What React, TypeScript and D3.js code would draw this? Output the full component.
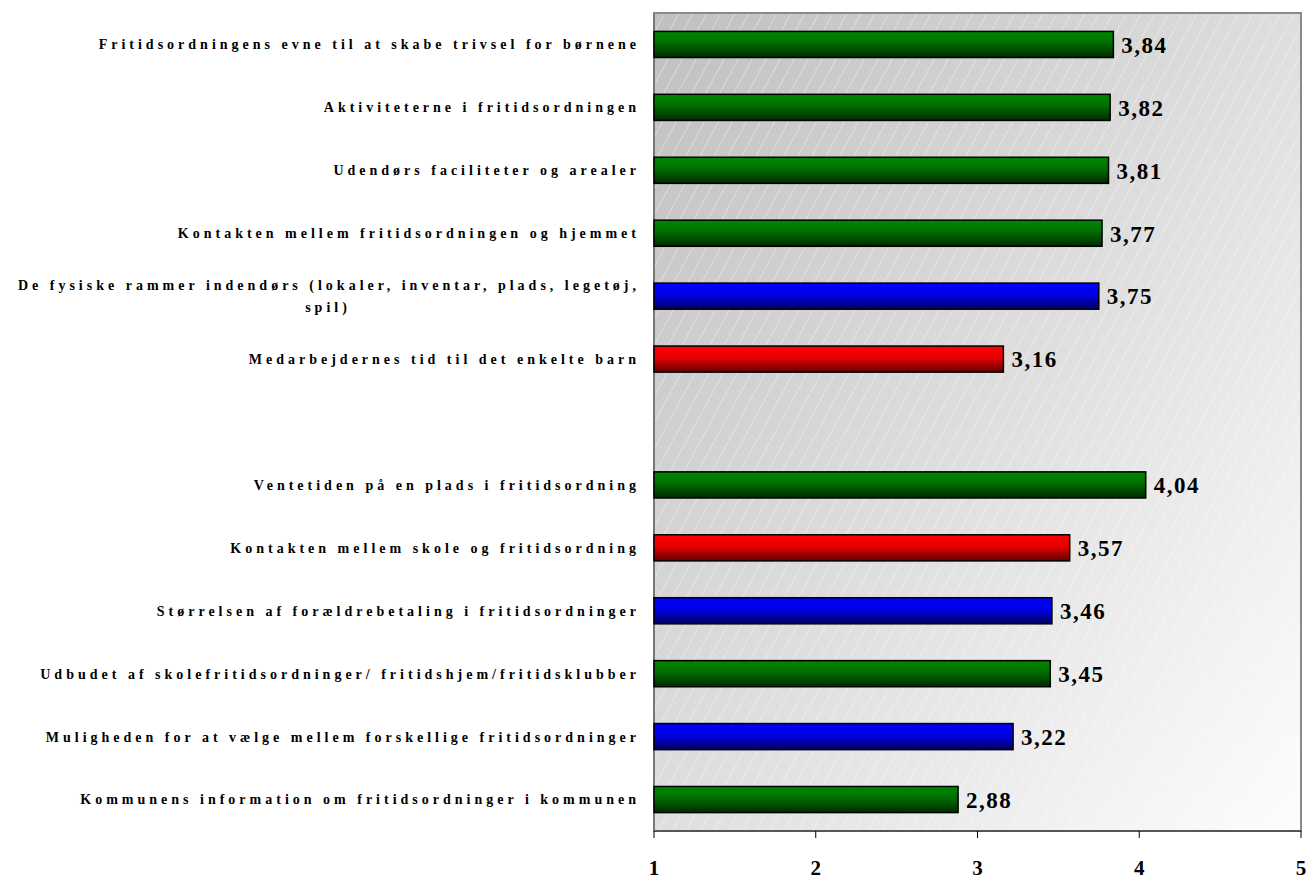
import React from "react";
import * as d3 from "d3";

const categories: string[][] = [
  ["Fritidsordningens evne til at skabe trivsel for børnene"],
  ["Aktiviteterne i fritidsordningen"],
  ["Udendørs faciliteter og arealer"],
  ["Kontakten mellem fritidsordningen og hjemmet"],
  ["De fysiske rammer indendørs (lokaler, inventar, plads, legetøj,", "spil)"],
  ["Medarbejdernes tid til det enkelte barn"],
  [],
  ["Ventetiden på en plads i fritidsordning"],
  ["Kontakten mellem skole og fritidsordning"],
  ["Størrelsen af forældrebetaling i fritidsordninger"],
  ["Udbudet af skolefritidsordninger/ fritidshjem/fritidsklubber"],
  ["Muligheden for at vælge mellem forskellige fritidsordninger"],
  ["Kommunens information om fritidsordninger i kommunen"],
];
const values: (number | null)[] = [3.84, 3.82, 3.81, 3.77, 3.75, 3.16, null, 4.04, 3.57, 3.46, 3.45, 3.22, 2.88];
const colorKeys: string[] = ["g", "g", "g", "g", "b", "r", "", "g", "r", "b", "g", "b", "g"];
const ticks: number[] = [1, 2, 3, 4, 5];

const W = 1309;
const H = 880;
const left = 654;
const right = 1301;
const top = 13;
const bottom = 831;

export default function App() {
  const x = d3.scaleLinear().domain([1, 5]).range([left, right]);
  const y = d3
    .scaleBand<number>()
    .domain(d3.range(categories.length))
    .range([top, bottom])
    .paddingInner(0.585)
    .paddingOuter(0.2925);
  const fmt = (v: number) => v.toFixed(2).replace(".", ",");
  const serif = "'Liberation Serif', 'Times New Roman', serif";
  const labelProps = {
    fontFamily: serif,
    fontWeight: "bold" as const,
    fontSize: 14,
    letterSpacing: 4,
    fill: "#000",
  };

  return (
    <svg
      width={W}
      height={H}
      style={{ position: "absolute", left: 0, top: 0, display: "block", background: "#fff" }}
    >
      <defs>
        <linearGradient id="bg" x1="0" y1="0" x2="1" y2="1">
          <stop offset="0" stopColor="#c0c0c0" />
          <stop offset="0.5" stopColor="#dedede" />
          <stop offset="1" stopColor="#fdfdfd" />
        </linearGradient>
        <pattern id="hatch" width="14" height="26" patternUnits="userSpaceOnUse">
          <line x1="0" y1="26" x2="14" y2="0" stroke="#ffffff" strokeWidth="0.8" opacity="0.5" />
        </pattern>
        <linearGradient id="g" x1="0" y1="0" x2="0" y2="1">
          <stop offset="0" stopColor="#008800" />
          <stop offset="0.4" stopColor="#007200" />
          <stop offset="1" stopColor="#002a00" />
        </linearGradient>
        <linearGradient id="b" x1="0" y1="0" x2="0" y2="1">
          <stop offset="0" stopColor="#0000ff" />
          <stop offset="0.45" stopColor="#0000e6" />
          <stop offset="1" stopColor="#000060" />
        </linearGradient>
        <linearGradient id="r" x1="0" y1="0" x2="0" y2="1">
          <stop offset="0" stopColor="#ff0000" />
          <stop offset="0.45" stopColor="#e60000" />
          <stop offset="1" stopColor="#600000" />
        </linearGradient>
      </defs>

      <rect x={left} y={top} width={right - left} height={bottom - top} fill="url(#bg)" />
      <rect x={left} y={top} width={right - left} height={bottom - top} fill="url(#hatch)" />
      <rect
        x={left}
        y={top}
        width={right - left}
        height={bottom - top}
        fill="none"
        stroke="#8a8a8a"
        strokeWidth={2}
      />
      <line x1={left} x2={right} y1={bottom} y2={bottom} stroke="#222" strokeWidth={1} />
      <line x1={left} x2={left} y1={top} y2={bottom} stroke="#666" strokeWidth={1} />

      {values.map((v, i) =>
        v == null ? null : (
          <g key={i}>
            <rect
              x={x(1)}
              y={y(i)!}
              width={x(v) - x(1)}
              height={y.bandwidth()}
              fill={`url(#${colorKeys[i]})`}
              stroke="#000"
              strokeWidth={1.5}
            />
            <text
              x={x(v) + 8}
              y={y(i)! + y.bandwidth() / 2}
              dy="0.36em"
              fontFamily={serif}
              fontWeight="bold"
              fontSize={23}
              letterSpacing={1.5}
              fill="#000"
            >
              {fmt(v)}
            </text>
          </g>
        )
      )}

      {categories.map((lines, i) => {
        const cy = y(i)! + y.bandwidth() / 2;
        if (lines.length === 0) return null;
        if (lines.length === 1)
          return (
            <text key={i} x={640} y={cy} dy="0.35em" textAnchor="end" {...labelProps}>
              {lines[0]}
            </text>
          );
        return (
          <g key={i}>
            <text x={640} y={cy - 11} dy="0.35em" textAnchor="end" {...labelProps}>
              {lines[0]}
            </text>
            <text x={328} y={cy + 11} dy="0.35em" textAnchor="middle" {...labelProps}>
              {lines[1]}
            </text>
          </g>
        );
      })}

      {ticks.map((t) => (
        <g key={t}>
          <line x1={x(t)} x2={x(t)} y1={bottom} y2={bottom + 7} stroke="#000" strokeWidth={1} />
          <text
            x={x(t)}
            y={868}
            dy="0.35em"
            textAnchor="middle"
            fontFamily={serif}
            fontWeight="bold"
            fontSize={21}
            fill="#000"
          >
            {t}
          </text>
        </g>
      ))}
    </svg>
  );
}
